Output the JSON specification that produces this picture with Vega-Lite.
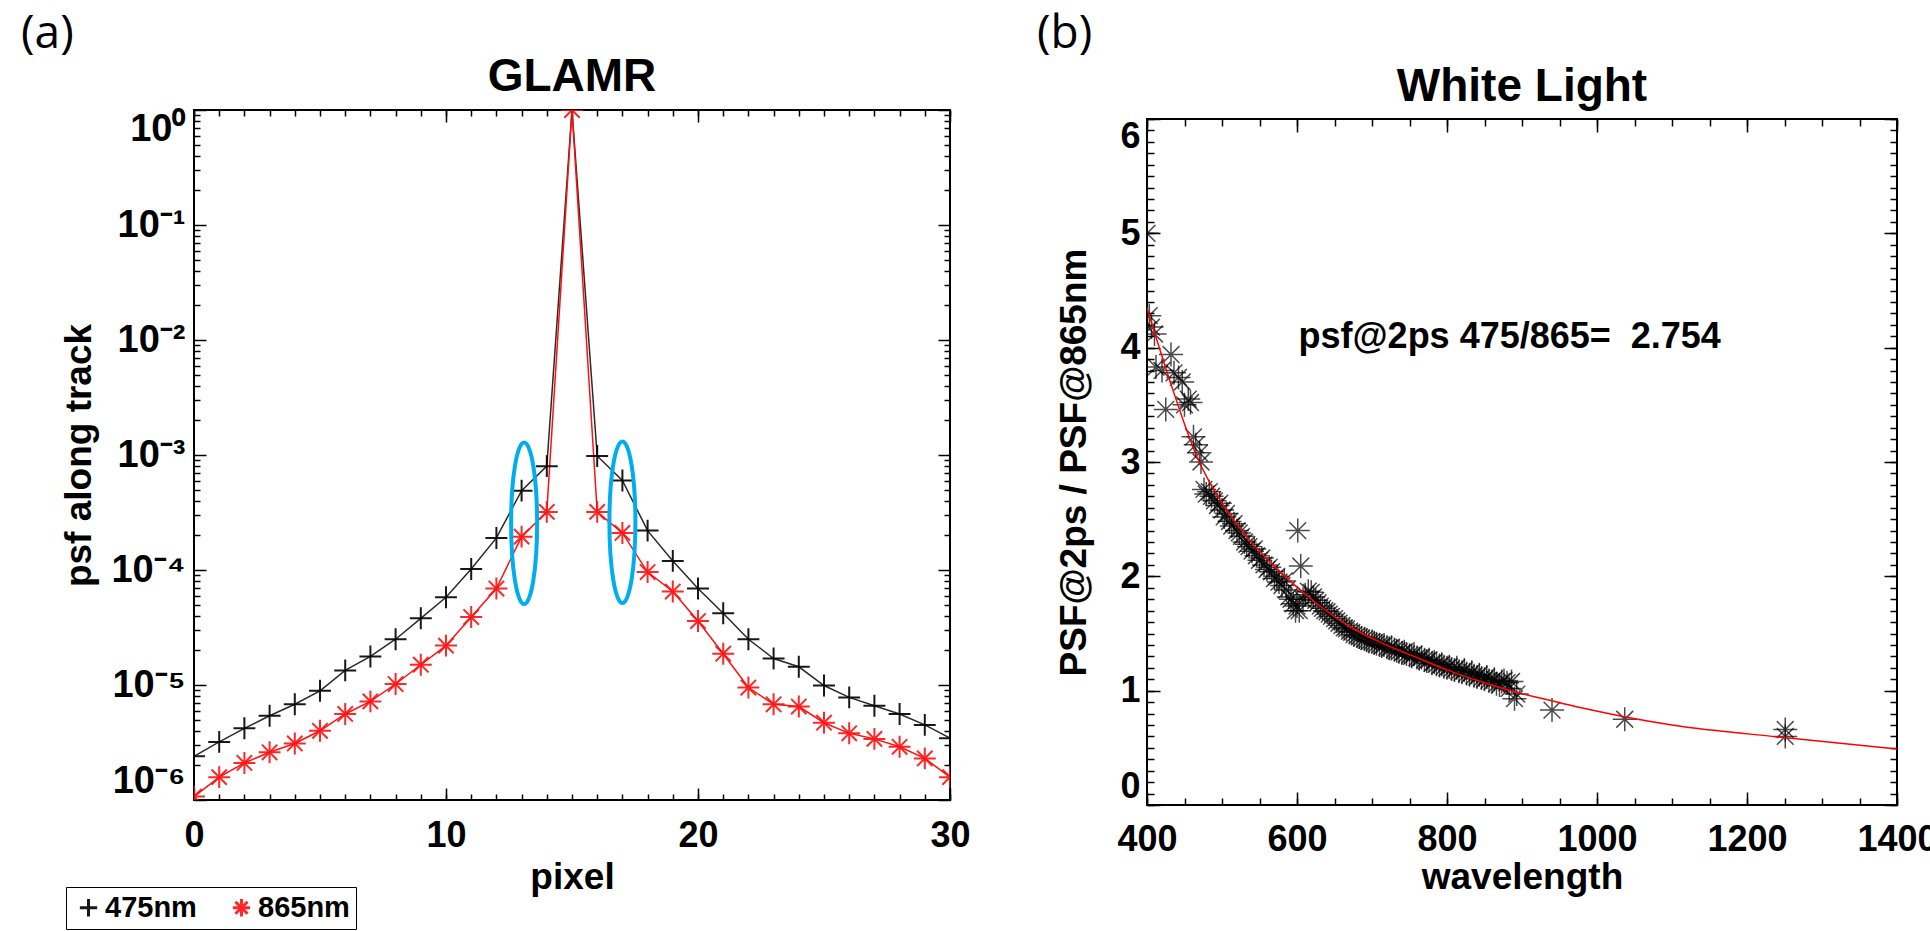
{
  "$schema": "https://vega.github.io/schema/vega-lite/v6.json",
  "background": "#ffffff",
  "padding": {"left": 20, "top": 9, "right": 0, "bottom": 0},
  "autosize": {"type": "pad"},
  "datasets": {
    "psf": [
      {"pixel": 0, "psf": 2.4e-6, "band": "475nm"},
      {"pixel": 1, "psf": 3.2e-6, "band": "475nm"},
      {"pixel": 2, "psf": 4.2e-6, "band": "475nm"},
      {"pixel": 3, "psf": 5.4e-6, "band": "475nm"},
      {"pixel": 4, "psf": 6.8e-6, "band": "475nm"},
      {"pixel": 5, "psf": 8.9e-6, "band": "475nm"},
      {"pixel": 6, "psf": 1.34e-5, "band": "475nm"},
      {"pixel": 7, "psf": 1.77e-5, "band": "475nm"},
      {"pixel": 8, "psf": 2.5e-5, "band": "475nm"},
      {"pixel": 9, "psf": 3.8e-5, "band": "475nm"},
      {"pixel": 10, "psf": 5.8e-5, "band": "475nm"},
      {"pixel": 11, "psf": 1.02e-4, "band": "475nm"},
      {"pixel": 12, "psf": 1.9e-4, "band": "475nm"},
      {"pixel": 13, "psf": 4.9e-4, "band": "475nm"},
      {"pixel": 14, "psf": 8.0e-4, "band": "475nm"},
      {"pixel": 15, "psf": 1.0, "band": "475nm"},
      {"pixel": 16, "psf": 9.8e-4, "band": "475nm"},
      {"pixel": 17, "psf": 6.0e-4, "band": "475nm"},
      {"pixel": 18, "psf": 2.2e-4, "band": "475nm"},
      {"pixel": 19, "psf": 1.2e-4, "band": "475nm"},
      {"pixel": 20, "psf": 6.9e-5, "band": "475nm"},
      {"pixel": 21, "psf": 4.2e-5, "band": "475nm"},
      {"pixel": 22, "psf": 2.5e-5, "band": "475nm"},
      {"pixel": 23, "psf": 1.7e-5, "band": "475nm"},
      {"pixel": 24, "psf": 1.44e-5, "band": "475nm"},
      {"pixel": 25, "psf": 9.9e-6, "band": "475nm"},
      {"pixel": 26, "psf": 7.8e-6, "band": "475nm"},
      {"pixel": 27, "psf": 6.6e-6, "band": "475nm"},
      {"pixel": 28, "psf": 5.6e-6, "band": "475nm"},
      {"pixel": 29, "psf": 4.5e-6, "band": "475nm"},
      {"pixel": 30, "psf": 3.45e-6, "band": "475nm"},
      {"pixel": 0, "psf": 1.07e-6, "band": "865nm"},
      {"pixel": 1, "psf": 1.58e-6, "band": "865nm"},
      {"pixel": 2, "psf": 2.1e-6, "band": "865nm"},
      {"pixel": 3, "psf": 2.6e-6, "band": "865nm"},
      {"pixel": 4, "psf": 3.1e-6, "band": "865nm"},
      {"pixel": 5, "psf": 4.0e-6, "band": "865nm"},
      {"pixel": 6, "psf": 5.6e-6, "band": "865nm"},
      {"pixel": 7, "psf": 7.2e-6, "band": "865nm"},
      {"pixel": 8, "psf": 1.02e-5, "band": "865nm"},
      {"pixel": 9, "psf": 1.5e-5, "band": "865nm"},
      {"pixel": 10, "psf": 2.2e-5, "band": "865nm"},
      {"pixel": 11, "psf": 3.9e-5, "band": "865nm"},
      {"pixel": 12, "psf": 6.9e-5, "band": "865nm"},
      {"pixel": 13, "psf": 1.95e-4, "band": "865nm"},
      {"pixel": 14, "psf": 3.2e-4, "band": "865nm"},
      {"pixel": 15, "psf": 1.0, "band": "865nm"},
      {"pixel": 16, "psf": 3.2e-4, "band": "865nm"},
      {"pixel": 17, "psf": 2.1e-4, "band": "865nm"},
      {"pixel": 18, "psf": 9.6e-5, "band": "865nm"},
      {"pixel": 19, "psf": 6.5e-5, "band": "865nm"},
      {"pixel": 20, "psf": 3.6e-5, "band": "865nm"},
      {"pixel": 21, "psf": 1.87e-5, "band": "865nm"},
      {"pixel": 22, "psf": 9.5e-6, "band": "865nm"},
      {"pixel": 23, "psf": 6.8e-6, "band": "865nm"},
      {"pixel": 24, "psf": 6.5e-6, "band": "865nm"},
      {"pixel": 25, "psf": 4.7e-6, "band": "865nm"},
      {"pixel": 26, "psf": 3.8e-6, "band": "865nm"},
      {"pixel": 27, "psf": 3.4e-6, "band": "865nm"},
      {"pixel": 28, "psf": 2.9e-6, "band": "865nm"},
      {"pixel": 29, "psf": 2.3e-6, "band": "865nm"},
      {"pixel": 30, "psf": 1.58e-6, "band": "865nm"}
    ],
    "ratio": [
      {"wl": 400, "r": 5.0}, {"wl": 403, "r": 4.28}, {"wl": 406, "r": 4.18}, {"wl": 410, "r": 4.12},
      {"wl": 412, "r": 3.83}, {"wl": 420, "r": 3.8}, {"wl": 425, "r": 3.46}, {"wl": 432, "r": 3.94},
      {"wl": 436, "r": 3.78}, {"wl": 442, "r": 3.74}, {"wl": 447, "r": 3.7}, {"wl": 450, "r": 3.5},
      {"wl": 455, "r": 3.55}, {"wl": 458, "r": 3.52}, {"wl": 462, "r": 3.22}, {"wl": 465, "r": 3.15},
      {"wl": 470, "r": 3.08}, {"wl": 472, "r": 3.0}, {"wl": 476, "r": 2.76}, {"wl": 479, "r": 2.72},
      {"wl": 483, "r": 2.74}, {"wl": 486, "r": 2.7}, {"wl": 490, "r": 2.66}, {"wl": 494, "r": 2.62},
      {"wl": 497, "r": 2.64}, {"wl": 500, "r": 2.58}, {"wl": 503, "r": 2.52}, {"wl": 506, "r": 2.55},
      {"wl": 510, "r": 2.48}, {"wl": 513, "r": 2.44}, {"wl": 516, "r": 2.46}, {"wl": 520, "r": 2.4},
      {"wl": 523, "r": 2.38}, {"wl": 526, "r": 2.35}, {"wl": 530, "r": 2.3}, {"wl": 533, "r": 2.28},
      {"wl": 536, "r": 2.26}, {"wl": 540, "r": 2.22}, {"wl": 543, "r": 2.24}, {"wl": 546, "r": 2.18},
      {"wl": 550, "r": 2.14}, {"wl": 553, "r": 2.16}, {"wl": 556, "r": 2.1}, {"wl": 560, "r": 2.06},
      {"wl": 563, "r": 2.08}, {"wl": 566, "r": 2.04}, {"wl": 570, "r": 1.98}, {"wl": 573, "r": 2.0},
      {"wl": 576, "r": 1.95}, {"wl": 580, "r": 1.92}, {"wl": 583, "r": 1.96}, {"wl": 586, "r": 1.88},
      {"wl": 589, "r": 1.82}, {"wl": 592, "r": 1.8}, {"wl": 595, "r": 1.76}, {"wl": 598, "r": 1.7},
      {"wl": 600, "r": 1.74}, {"wl": 601, "r": 2.4}, {"wl": 603, "r": 1.7}, {"wl": 605, "r": 2.09},
      {"wl": 608, "r": 1.8}, {"wl": 611, "r": 1.84}, {"wl": 615, "r": 1.87}, {"wl": 619, "r": 1.86},
      {"wl": 622, "r": 1.82}, {"wl": 625, "r": 1.79}, {"wl": 628, "r": 1.77}, {"wl": 631, "r": 1.74},
      {"wl": 634, "r": 1.72}, {"wl": 637, "r": 1.7}, {"wl": 640, "r": 1.69}, {"wl": 643, "r": 1.67},
      {"wl": 646, "r": 1.65}, {"wl": 650, "r": 1.63}, {"wl": 653, "r": 1.61}, {"wl": 656, "r": 1.59},
      {"wl": 660, "r": 1.57}, {"wl": 663, "r": 1.55}, {"wl": 666, "r": 1.54}, {"wl": 670, "r": 1.52},
      {"wl": 673, "r": 1.51}, {"wl": 676, "r": 1.49}, {"wl": 680, "r": 1.48}, {"wl": 683, "r": 1.47},
      {"wl": 686, "r": 1.46}, {"wl": 690, "r": 1.45}, {"wl": 693, "r": 1.44}, {"wl": 696, "r": 1.43},
      {"wl": 700, "r": 1.43}, {"wl": 703, "r": 1.42}, {"wl": 706, "r": 1.41}, {"wl": 710, "r": 1.4},
      {"wl": 713, "r": 1.39}, {"wl": 716, "r": 1.4}, {"wl": 720, "r": 1.38}, {"wl": 723, "r": 1.37},
      {"wl": 726, "r": 1.38}, {"wl": 730, "r": 1.36}, {"wl": 733, "r": 1.35}, {"wl": 736, "r": 1.34},
      {"wl": 740, "r": 1.33}, {"wl": 743, "r": 1.34}, {"wl": 746, "r": 1.32}, {"wl": 750, "r": 1.31},
      {"wl": 753, "r": 1.3}, {"wl": 756, "r": 1.32}, {"wl": 760, "r": 1.29}, {"wl": 763, "r": 1.28},
      {"wl": 766, "r": 1.29}, {"wl": 770, "r": 1.27}, {"wl": 773, "r": 1.26}, {"wl": 776, "r": 1.27},
      {"wl": 780, "r": 1.24}, {"wl": 783, "r": 1.25}, {"wl": 786, "r": 1.23}, {"wl": 790, "r": 1.22},
      {"wl": 793, "r": 1.23}, {"wl": 796, "r": 1.21}, {"wl": 800, "r": 1.2}, {"wl": 803, "r": 1.21},
      {"wl": 806, "r": 1.19}, {"wl": 810, "r": 1.18}, {"wl": 813, "r": 1.2}, {"wl": 816, "r": 1.17},
      {"wl": 820, "r": 1.16}, {"wl": 823, "r": 1.18}, {"wl": 826, "r": 1.15}, {"wl": 830, "r": 1.14},
      {"wl": 833, "r": 1.16}, {"wl": 836, "r": 1.13}, {"wl": 840, "r": 1.12}, {"wl": 843, "r": 1.14},
      {"wl": 846, "r": 1.11}, {"wl": 850, "r": 1.1}, {"wl": 853, "r": 1.12}, {"wl": 856, "r": 1.09},
      {"wl": 860, "r": 1.08}, {"wl": 863, "r": 1.1}, {"wl": 866, "r": 1.06}, {"wl": 870, "r": 1.05},
      {"wl": 873, "r": 1.08}, {"wl": 876, "r": 1.09}, {"wl": 880, "r": 1.07}, {"wl": 883, "r": 1.02},
      {"wl": 886, "r": 1.08}, {"wl": 890, "r": 0.93}, {"wl": 893, "r": 0.97}, {"wl": 940, "r": 0.83},
      {"wl": 1037, "r": 0.75}, {"wl": 1251, "r": 0.66}, {"wl": 1251, "r": 0.6}
    ],
    "fit": [
      {"wl": 400, "r": 4.35}, {"wl": 430, "r": 3.72}, {"wl": 467, "r": 3.04}, {"wl": 500, "r": 2.64},
      {"wl": 535, "r": 2.33}, {"wl": 579, "r": 2.03}, {"wl": 623, "r": 1.78}, {"wl": 668, "r": 1.57},
      {"wl": 712, "r": 1.42}, {"wl": 756, "r": 1.3}, {"wl": 801, "r": 1.18}, {"wl": 845, "r": 1.08},
      {"wl": 890, "r": 0.99}, {"wl": 934, "r": 0.92}, {"wl": 979, "r": 0.85}, {"wl": 1038, "r": 0.77},
      {"wl": 1100, "r": 0.7}, {"wl": 1249, "r": 0.59}, {"wl": 1400, "r": 0.49}
    ]
  },
  "spacing": 197,
  "bounds": "flush",
  "hconcat": [
    {
      "width": 756,
      "height": 690,
      "resolve": {"axis": {"x": "independent", "y": "independent"}},
      "layer": [
        {
          "data": {"name": "psf"},
          "transform": [{"filter": "datum.band === '475nm'"}],
          "mark": {"type": "line", "color": "#2a2a2a", "strokeWidth": 1.5, "clip": true},
          "encoding": {
            "x": {
              "field": "pixel", "type": "quantitative",
              "scale": {"domain": [0, 30], "nice": false, "zero": false},
              "axis": {"orient": "bottom", "values": [0, 10, 20, 30], "tickSize": -12, "labelPadding": 30, "labelFlush": false,
                "title": "pixel", "titleX": 378, "titleY": 88, "titleBaseline": "alphabetic", "titleAlign": "center"}
            },
            "y": {
              "field": "psf", "type": "quantitative",
              "scale": {"type": "log", "domain": [0.000001, 1], "nice": false},
              "axis": {"orient": "left", "values": [0.000001, 0.00001, 0.0001, 0.001, 0.01, 0.1, 1],
                "tickSize": -12, "labelPadding": 21, "labelFlush": true, "labelFontSize": 38,
                "labelExpr": "datum.value >= 0.99 ? '10⁰' : datum.value >= 0.099 ? '10⁻¹' : datum.value >= 0.0099 ? '10⁻²' : datum.value >= 0.00099 ? '10⁻³' : datum.value >= 0.000099 ? '10⁻⁴' : datum.value >= 0.0000099 ? '10⁻⁵' : '10⁻⁶'",
                "title": "psf along track", "titleX": -104, "titleY": 345, "titleBaseline": "alphabetic", "titleAlign": "center"}
            }
          }
        },
        {
          "data": {"name": "psf"},
          "transform": [{"filter": "datum.band === '865nm'"}],
          "mark": {"type": "line", "color": "#ff1010", "strokeWidth": 1.5, "clip": true},
          "encoding": {
            "x": {"field": "pixel", "type": "quantitative",
              "axis": {"orient": "bottom", "values": [0,1,2,3,4,5,6,7,8,9,10,11,12,13,14,15,16,17,18,19,20,21,22,23,24,25,26,27,28,29,30],
                "tickSize": -6, "labels": false, "title": null}},
            "y": {"field": "psf", "type": "quantitative",
              "axis": {"orient": "left", "values": [0.000002,0.000003,0.000004,0.000005,0.000006,0.000007,0.000008,0.000009,0.00002,0.00003,0.00004,0.00005,0.00006,0.00007,0.00008,0.00009,0.0002,0.0003,0.0004,0.0005,0.0006,0.0007,0.0008,0.0009,0.002,0.003,0.004,0.005,0.006,0.007,0.008,0.009,0.02,0.03,0.04,0.05,0.06,0.07,0.08,0.09,0.2,0.3,0.4,0.5,0.6,0.7,0.8,0.9],
                "tickSize": -6, "labels": false, "title": null}}
          }
        },
        {
          "data": {"name": "psf"},
          "mark": {"type": "point", "filled": false, "strokeWidth": 2, "size": 480, "opacity": 0.9, "clip": true},
          "encoding": {
            "x": {"field": "pixel", "type": "quantitative", "axis": null},
            "y": {"field": "psf", "type": "quantitative", "axis": null},
            "color": {"field": "band", "type": "nominal",
              "scale": {"domain": ["475nm", "865nm"], "range": ["#000000", "#ff1010"]},
              "legend": {"orient": "none", "legendX": -128, "legendY": 777, "direction": "horizontal", "title": null,
                "strokeColor": "#000000", "fillColor": "#ffffff", "padding": 6, "symbolOffset": 2,
                "labelFont": "Liberation Sans", "labelFontWeight": "bold", "labelFontSize": 29, "labelColor": "#000000",
                "symbolSize": 300, "symbolStrokeWidth": 3, "columnPadding": 28, "labelOffset": 2}},
            "shape": {"field": "band", "type": "nominal",
              "scale": {"domain": ["475nm", "865nm"], "range": ["M-1,0L1,0M0,-1L0,1", "M-1,0L1,0M0,-1L0,1M-0.7,-0.7L0.7,0.7M-0.7,0.7L0.7,-0.7"]},
              "legend": {"orient": "none", "legendX": -128, "legendY": 777, "direction": "horizontal", "title": null,
                "strokeColor": "#000000", "fillColor": "#ffffff", "padding": 6, "symbolOffset": 2,
                "labelFont": "Liberation Sans", "labelFontWeight": "bold", "labelFontSize": 29, "labelColor": "#000000",
                "symbolSize": 300, "symbolStrokeWidth": 3, "columnPadding": 28, "labelOffset": 2}}
          }
        },
        {
          "data": {"name": "psf"},
          "mark": {"type": "point", "opacity": 0},
          "encoding": {
            "x": {"field": "pixel", "type": "quantitative",
              "axis": {"orient": "top", "values": [0, 10, 20, 30], "tickSize": -12, "labels": false, "title": null}},
            "y": {"field": "psf", "type": "quantitative",
              "axis": {"orient": "right", "values": [0.000001, 0.00001, 0.0001, 0.001, 0.01, 0.1, 1], "tickSize": -12, "labels": false, "title": null}}
          }
        },
        {
          "data": {"name": "psf"},
          "mark": {"type": "point", "opacity": 0},
          "encoding": {
            "x": {"field": "pixel", "type": "quantitative",
              "axis": {"orient": "top", "values": [0,1,2,3,4,5,6,7,8,9,10,11,12,13,14,15,16,17,18,19,20,21,22,23,24,25,26,27,28,29,30],
                "tickSize": -6, "labels": false, "title": null}},
            "y": {"field": "psf", "type": "quantitative",
              "axis": {"orient": "right", "values": [0.000002,0.000003,0.000004,0.000005,0.000006,0.000007,0.000008,0.000009,0.00002,0.00003,0.00004,0.00005,0.00006,0.00007,0.00008,0.00009,0.0002,0.0003,0.0004,0.0005,0.0006,0.0007,0.0008,0.0009,0.002,0.003,0.004,0.005,0.006,0.007,0.008,0.009,0.02,0.03,0.04,0.05,0.06,0.07,0.08,0.09,0.2,0.3,0.4,0.5,0.6,0.7,0.8,0.9],
                "tickSize": -6, "labels": false, "title": null}}
          }
        },
        {
          "data": {"values": [{"pixel": 13.1, "psf": 0.000255}, {"pixel": 17.0, "psf": 0.00026}]},
          "mark": {"type": "point", "filled": false, "shape": "M0,-1A0.161,1 0 1,1 0,1A0.161,1 0 1,1 0,-1Z",
            "size": 26100, "stroke": "#00aeef", "strokeWidth": 4, "opacity": 1},
          "encoding": {
            "x": {"field": "pixel", "type": "quantitative", "axis": null},
            "y": {"field": "psf", "type": "quantitative", "axis": null}
          }
        },
        {
          "data": {"values": [{"pixel": -6.865, "psf": 7.11, "label": "(a)"}]},
          "mark": {"type": "text", "align": "left", "baseline": "top", "font": "Open Sans", "fontSize": 46, "color": "#000000"},
          "encoding": {
            "x": {"field": "pixel", "type": "quantitative", "axis": null},
            "y": {"field": "psf", "type": "quantitative", "axis": null},
            "text": {"field": "label"}
          }
        },
        {
          "data": {"values": [{"pixel": 15, "psf": 1.463, "label": "GLAMR"}]},
          "mark": {"type": "text", "align": "center", "baseline": "alphabetic", "font": "Liberation Sans", "fontWeight": "bold", "fontSize": 46, "color": "#000000"},
          "encoding": {
            "x": {"field": "pixel", "type": "quantitative", "axis": null},
            "y": {"field": "psf", "type": "quantitative", "axis": null},
            "text": {"field": "label"}
          }
        }
      ]
    },
    {
      "spacing": 0,
      "bounds": "flush",
      "vconcat": [
        {
          "width": 750,
          "height": 9,
          "view": {"stroke": null},
          "data": {"values": [{}]},
          "mark": {"type": "text", "text": ""}
        },
        {
          "width": 750,
          "height": 686,
          "resolve": {"axis": {"x": "independent", "y": "independent"}},
          "layer": [
            {
              "data": {"name": "ratio"},
              "mark": {"type": "point", "filled": false, "shape": "M-1,0L1,0M0,-1L0,1M-0.7,-0.7L0.7,0.7M-0.7,0.7L0.7,-0.7",
                "size": 576, "stroke": "#000000", "strokeWidth": 1.5, "opacity": 0.7, "clip": true},
              "encoding": {
                "x": {"field": "wl", "type": "quantitative",
                  "scale": {"domain": [400, 1400], "nice": false, "zero": false},
                  "axis": {"orient": "bottom", "values": [400, 600, 800, 1000, 1200, 1400], "format": "d", "tickSize": -13, "labelPadding": 30, "labelFlush": false,
                    "title": "wavelength", "titleX": 375, "titleY": 83, "titleBaseline": "alphabetic", "titleAlign": "center"}},
                "y": {"field": "r", "type": "quantitative",
                  "scale": {"domain": [0, 6], "nice": false},
                  "axis": {"orient": "left", "values": [0, 1, 2, 3, 4, 5, 6], "tickSize": -13, "labelPadding": 20, "labelFlush": true,
                    "title": "PSF@2ps / PSF@865nm", "titleX": -62, "titleY": 343, "titleBaseline": "alphabetic", "titleAlign": "center"}}
              }
            },
            {
              "data": {"name": "fit"},
              "mark": {"type": "line", "color": "#ff0000", "strokeWidth": 1.5, "interpolate": "monotone", "clip": true},
              "encoding": {
                "x": {"field": "wl", "type": "quantitative",
                  "axis": {"orient": "bottom", "values": [400,450,500,550,600,650,700,750,800,850,900,950,1000,1050,1100,1150,1200,1250,1300,1350,1400],
                    "tickSize": -7, "labels": false, "title": null}},
                "y": {"field": "r", "type": "quantitative",
                  "axis": {"orient": "left", "values": [0,0.1,0.2,0.3,0.4,0.5,0.6,0.7,0.8,0.9,1,1.1,1.2,1.3,1.4,1.5,1.6,1.7,1.8,1.9,2,2.1,2.2,2.3,2.4,2.5,2.6,2.7,2.8,2.9,3,3.1,3.2,3.3,3.4,3.5,3.6,3.7,3.8,3.9,4,4.1,4.2,4.3,4.4,4.5,4.6,4.7,4.8,4.9,5,5.1,5.2,5.3,5.4,5.5,5.6,5.7,5.8,5.9,6],
                    "tickSize": -7, "labels": false, "title": null}}
              }
            },
            {
              "data": {"name": "fit"},
              "mark": {"type": "point", "opacity": 0},
              "encoding": {
                "x": {"field": "wl", "type": "quantitative",
                  "axis": {"orient": "top", "values": [400, 600, 800, 1000, 1200, 1400], "tickSize": -13, "labels": false, "title": null}},
                "y": {"field": "r", "type": "quantitative",
                  "axis": {"orient": "right", "values": [0, 1, 2, 3, 4, 5, 6], "tickSize": -13, "labels": false, "title": null}}
              }
            },
            {
              "data": {"name": "fit"},
              "mark": {"type": "point", "opacity": 0},
              "encoding": {
                "x": {"field": "wl", "type": "quantitative",
                  "axis": {"orient": "top", "values": [400,450,500,550,600,650,700,750,800,850,900,950,1000,1050,1100,1150,1200,1250,1300,1350,1400],
                    "tickSize": -7, "labels": false, "title": null}},
                "y": {"field": "r", "type": "quantitative",
                  "axis": {"orient": "right", "values": [0,0.1,0.2,0.3,0.4,0.5,0.6,0.7,0.8,0.9,1,1.1,1.2,1.3,1.4,1.5,1.6,1.7,1.8,1.9,2,2.1,2.2,2.3,2.4,2.5,2.6,2.7,2.8,2.9,3,3.1,3.2,3.3,3.4,3.5,3.6,3.7,3.8,3.9,4,4.1,4.2,4.3,4.4,4.5,4.6,4.7,4.8,4.9,5,5.1,5.2,5.3,5.4,5.5,5.6,5.7,5.8,5.9,6],
                    "tickSize": -7, "labels": false, "title": null}}
              }
            },
            {
              "data": {"values": [{"wl": 602, "r": 4.0, "label": "psf@2ps 475/865= \u00a02.754"}]},
              "mark": {"type": "text", "align": "left", "baseline": "alphabetic", "font": "Liberation Sans", "fontWeight": "bold", "fontSize": 36, "color": "#000000"},
              "encoding": {
                "x": {"field": "wl", "type": "quantitative", "axis": null},
                "y": {"field": "r", "type": "quantitative", "axis": null},
                "text": {"field": "label"}
              }
            },
            {
              "data": {"values": [{"wl": 253.3, "r": 6.938, "label": "(b)"}]},
              "mark": {"type": "text", "align": "left", "baseline": "top", "font": "Open Sans", "fontSize": 46, "color": "#000000"},
              "encoding": {
                "x": {"field": "wl", "type": "quantitative", "axis": null},
                "y": {"field": "r", "type": "quantitative", "axis": null},
                "text": {"field": "label"}
              }
            },
            {
              "data": {"values": [{"wl": 900, "r": 6.159, "label": "White Light"}]},
              "mark": {"type": "text", "align": "center", "baseline": "alphabetic", "font": "Liberation Sans", "fontWeight": "bold", "fontSize": 46, "color": "#000000"},
              "encoding": {
                "x": {"field": "wl", "type": "quantitative", "axis": null},
                "y": {"field": "r", "type": "quantitative", "axis": null},
                "text": {"field": "label"}
              }
            }
          ]
        }
      ]
    }
  ],
  "config": {
    "view": {"stroke": "#000000", "strokeWidth": 2},
    "axis": {
      "grid": false, "domain": false, "tickColor": "#000000", "tickWidth": 1.5,
      "labelFont": "Liberation Sans", "labelFontWeight": "bold", "labelFontSize": 36, "labelColor": "#000000",
      "titleFont": "Liberation Sans", "titleFontWeight": "bold", "titleFontSize": 37, "titleColor": "#000000"
    }
  }
}
